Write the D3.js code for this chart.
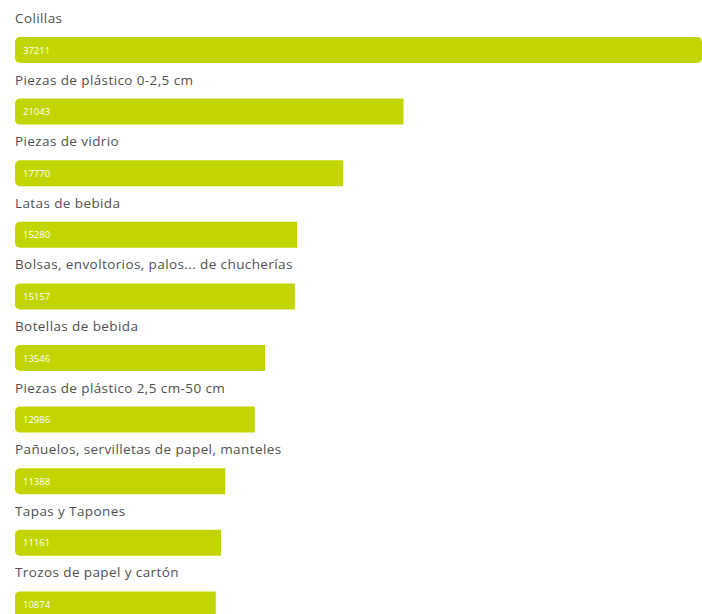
<!DOCTYPE html>
<html><head><meta charset="utf-8">
<script src="https://cdn.jsdelivr.net/npm/d3@7"></script>
<style>
html,body{margin:0;padding:0;background:#fff;overflow:hidden;}
svg{display:block;}
</style></head>
<body>
<script>
const categories = [
  "Colillas",
  "Piezas de plástico 0-2,5 cm",
  "Piezas de vidrio",
  "Latas de bebida",
  "Bolsas, envoltorios, palos... de chucherías",
  "Botellas de bebida",
  "Piezas de plástico 2,5 cm-50 cm",
  "Pañuelos, servilletas de papel, manteles",
  "Tapas y Tapones",
  "Trozos de papel y cartón"
];
const values = [37211, 21043, 17770, 15280, 15157, 13546, 12986, 11388, 11161, 10874];
const valueLabels = ["37211","21043","17770","15280","15157","13546","12986","11388","11161","10874"];

const W = 702, H = 614;
const left = 15, right = 702;
const svg = d3.select("body").append("svg").attr("width", W).attr("height", H);

const x = d3.scaleLinear().domain([0, d3.max(values)]).range([left, right]);
const y = d3.scaleBand().domain(categories).range([0, categories.length * 61.6]).paddingInner(0);

const barOffset = 37, barH = 26, r = 5;
const maxV = d3.max(values);

function barPath(x0, x1, y0, h, roundRight) {
  const p = d3.path();
  const rr = roundRight ? r : 0;
  p.moveTo(x0 + r, y0);
  p.lineTo(x1 - rr, y0);
  if (rr) p.arcTo(x1, y0, x1, y0 + rr, rr);
  p.lineTo(x1, y0 + h - rr);
  if (rr) p.arcTo(x1, y0 + h, x1 - rr, y0 + h, rr);
  p.lineTo(x0 + r, y0 + h);
  p.arcTo(x0, y0 + h, x0, y0 + h - r, r);
  p.lineTo(x0, y0 + r);
  p.arcTo(x0, y0, x0 + r, y0, r);
  p.closePath();
  return p.toString();
}

const rows = svg.selectAll("g.row").data(categories).join("g").attr("class","row");

rows.append("text")
  .attr("x", left)
  .attr("y", d => y(d) + 23)
  .attr("font-family", "'Open Sans', 'Noto Sans', sans-serif")
  .attr("font-size", 13.5)
  .attr("letter-spacing", 0.4)
  .attr("fill", "#505050")
  .text(d => d);

rows.append("path")
  .attr("d", (d, i) => barPath(x(0), x(values[i]), y(d) + barOffset, barH, values[i] === maxV))
  .attr("fill", "#c2d500");

rows.append("text")
  .attr("x", left + 8)
  .attr("y", d => y(d) + barOffset + barH / 2 + 3.5)
  .attr("font-family", "'Open Sans', 'Noto Sans', sans-serif")
  .attr("font-size", 9.5)
  .attr("fill", "#ffffff")
  .text((d, i) => valueLabels[i]);
</script>
</body></html>
